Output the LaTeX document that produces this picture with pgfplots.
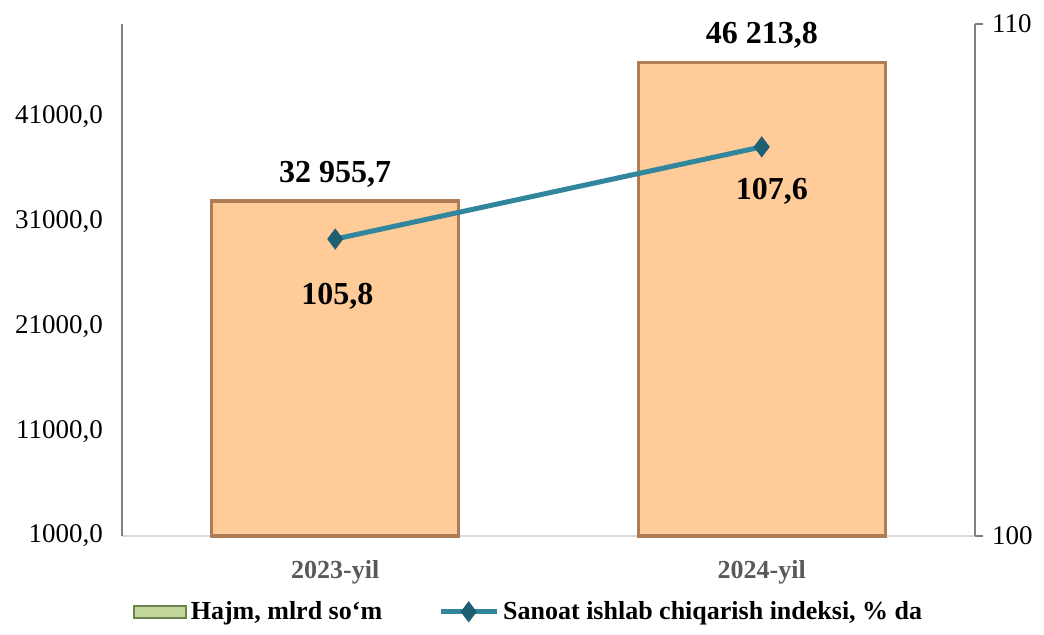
\documentclass[border=0pt]{standalone}
\usepackage{fontspec}
\setmainfont{Liberation Serif}
\usepackage{pgfplots}
\pgfplotsset{compat=1.18}
\definecolor{barfill}{RGB}{255,204,153}
\definecolor{baredge}{RGB}{175,125,85}
\definecolor{tealline}{RGB}{49,133,156}
\definecolor{tealdark}{RGB}{30,95,115}
\definecolor{legfill}{RGB}{196,215,155}
\definecolor{legedge}{RGB}{110,130,80}
\definecolor{axgray}{RGB}{128,128,128}
\definecolor{lgray}{RGB}{217,217,217}
\definecolor{labgray}{RGB}{89,89,89}
\pgfplotsset{
  longline legend/.style={legend image code/.code={\draw[mark repeat=2,mark phase=2,##1] plot coordinates {(0pt,0pt) (14pt,0pt) (28pt,0pt)};}},
  greenbar legend/.style={legend image code/.code={\draw[fill=legfill,draw=legedge,line width=0.8pt] (0pt,-3pt) rectangle (26pt,3pt);}},
}
\begin{document}
\begin{tikzpicture}
\begin{axis}[
  at={(0,0)}, anchor=south west,
  scale only axis, width=426.5pt, height=256pt,
  xmin=-0.5, xmax=1.5, ymin=1000, ymax=49850,
  axis x line*=bottom, axis y line*=left,
  x axis line style={draw=lgray, line width=0.8pt, -},
  y axis line style={draw=axgray, line width=0.8pt, -},
  xtick={0,1}, xticklabels={2023-yil,2024-yil},
  xtick style={draw=none}, ytick style={draw=none},
  xticklabel style={font=\fontsize{13}{15}\selectfont\bfseries, text=labgray, yshift=-8.5pt},
  ytick={1000,11000,21000,31000,41000},
  scaled y ticks=false,
  yticklabel style={font=\fontsize{13.5}{15}\selectfont, xshift=-6pt, /pgf/number format/.cd, fixed, fixed zerofill, precision=1, use comma, 1000 sep={}, assume math mode=true},
  clip=false,
  legend columns=2,
  legend style={at={(0.478,-0.148)}, anchor=center, draw=none, fill=none,
    font=\fontsize{13}{15}\selectfont\bfseries,
    /tikz/every even column/.append style={column sep=26pt}},
]
\addplot[ybar, bar width=123.5pt, bar shift=0pt, fill=barfill, draw=baredge, line width=1.6pt,
  nodes near coords, point meta=explicit symbolic,
  nodes near coords style={font=\fontsize{16}{18}\selectfont\bfseries, text=black, anchor=center, yshift=13.5pt},
  greenbar legend]
  coordinates {(0,32955.7) [32 955,7] (1,46213.8) [46 213,8]};
\addlegendentry{Hajm, mlrd so‘m}
\addlegendimage{tealline, line width=2.5pt, mark=diamond*, mark size=5pt, mark options={fill=tealdark, draw=tealdark, line width=0.4pt}, longline legend}
\addlegendentry{Sanoat ishlab chiqarish indeksi, \% da}
\end{axis}
\begin{axis}[
  at={(0,0)}, anchor=south west,
  scale only axis, width=426.5pt, height=256pt,
  xmin=-0.5, xmax=1.5, ymin=100, ymax=110,
  hide x axis, axis y line*=right,
  y axis line style={draw=axgray, line width=0.8pt, -},
  ytick={100,110}, ytick align=outside, major tick length=4pt,
  ytick style={draw=axgray, line width=0.8pt},
  yticklabel style={font=\fontsize{13.5}{15}\selectfont, xshift=1pt, /pgf/number format/assume math mode=true},
  clip=false,
]
\addplot[tealline, line width=2.5pt, mark=diamond*, mark size=5pt, mark options={fill=tealdark, draw=tealdark, line width=0.4pt}]
  coordinates {(0,105.8) (1,107.6)};
\node[font=\fontsize{16}{18}\selectfont\bfseries, xshift=1pt, yshift=-28.5pt] at (axis cs:0,105.8) {105,8};
\node[font=\fontsize{16}{18}\selectfont\bfseries, xshift=5pt, yshift=-22pt] at (axis cs:1,107.6) {107,6};
\end{axis}
\pgfresetboundingbox
\useasboundingbox (-61pt,-49pt) rectangle (461pt,268pt);
\end{tikzpicture}
\end{document}
